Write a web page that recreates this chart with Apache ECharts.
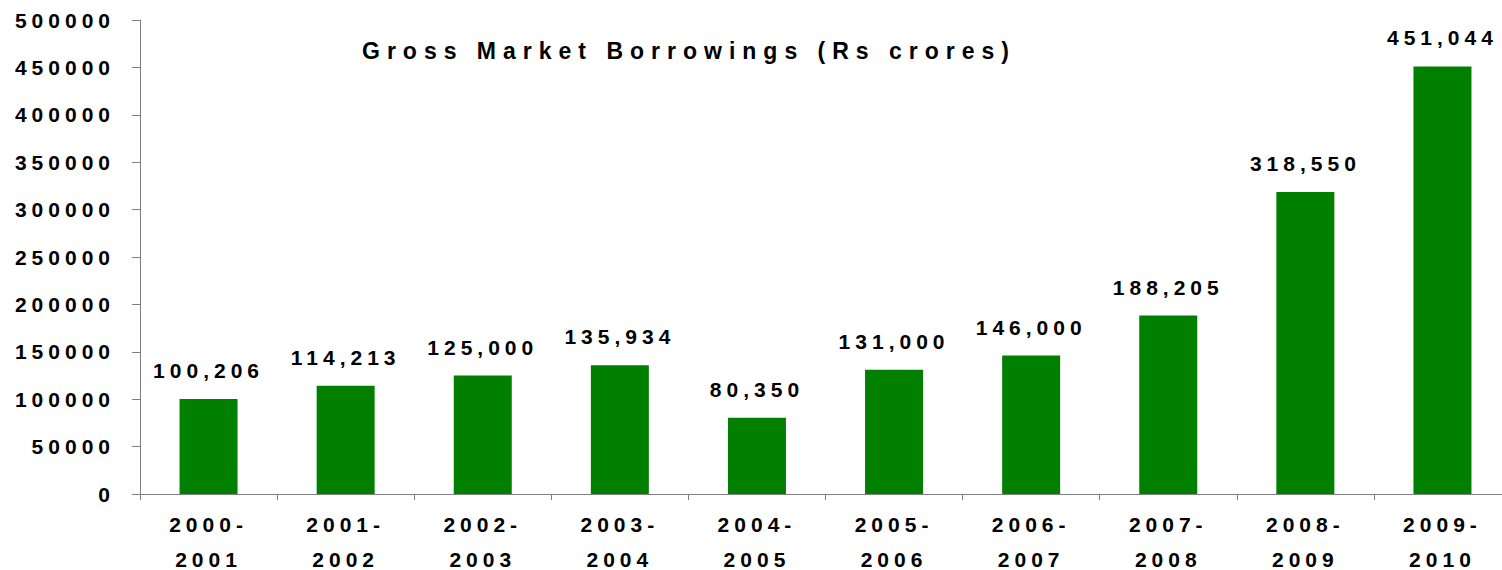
<!DOCTYPE html>
<html>
<head>
<meta charset="utf-8">
<script src="https://cdn.jsdelivr.net/npm/echarts@6/dist/echarts.min.js"></script>
<style>
  html, body { margin: 0; padding: 0; background: #fff; }
  #chart { width: 1502px; height: 570px; }
  /* wide tracking like the original slide */
  #chart text { letter-spacing: 5px; }
  #chart text[style*="23px"] { letter-spacing: 7px; }
</style>
</head>
<body>
<div id="chart"></div>
<script>
// 年度
const years = ['2000-\n2001', '2001-\n2002', '2002-\n2003', '2003-\n2004', '2004-\n2005',
  '2005-\n2006', '2006-\n2007', '2007-\n2008', '2008-\n2009', '2009-\n2010']
// Gross market borrowings, Rs crores
const borrowings = [100206, 114213, 125000, 135934, 80350, 131000, 146000, 188205, 318550, 451044]
const yTicks = [0, 50000, 100000, 150000, 200000, 250000, 300000, 350000, 400000, 450000, 500000]

const font = '"Liberation Sans", Arial, sans-serif'
const myChart = echarts.init(document.getElementById('chart'), null, { renderer: 'svg' })

const option = {
  animation: false,
  backgroundColor: '#fff',
  title: {
    text: 'Gross Market Borrowings (Rs crores)',
    left: 357,
    top: 34,
    textStyle: {
      fontFamily: font,
      fontWeight: 'bold',
      fontSize: 23,
      color: '#000'
    }
  },
  grid: {
    left: 140,
    right: -9,
    top: 20,
    bottom: 76,
    containLabel: false,
    outerBoundsMode: 'none'
  },
  xAxis: {
    type: 'category',
    data: years,
    boundaryGap: true,
    axisLine: { lineStyle: { color: '#808080', width: 1 } },
    axisTick: { show: true, length: 6, lineStyle: { color: '#808080' } },
    axisLabel: {
      interval: 0,
      margin: 13,
      lineHeight: 35,
      fontFamily: font,
      fontWeight: 'bold',
      fontSize: 21,
      color: '#000'
    }
  },
  yAxis: {
    type: 'value',
    min: yTicks[0],
    max: yTicks[yTicks.length - 1],
    interval: 50000,
    splitLine: { show: false },
    axisLine: { show: true, lineStyle: { color: '#808080', width: 1 } },
    axisTick: { show: true, length: 8, lineStyle: { color: '#808080' } },
    axisLabel: {
      margin: 25,
      fontFamily: font,
      fontWeight: 'bold',
      fontSize: 21,
      color: '#000',
      formatter: (v) => String(v)
    }
  },
  series: [
    {
      type: 'bar',
      data: borrowings,
      barWidth: 58,
      itemStyle: { color: '#007F00' },
      label: {
        show: true,
        position: 'top',
        distance: 18,
        fontFamily: font,
        fontWeight: 'bold',
        fontSize: 21,
        color: '#000',
        formatter: (p) => p.value.toLocaleString('en-US')
      }
    }
  ]
}
myChart.setOption(option)
</script>
</body>
</html>
